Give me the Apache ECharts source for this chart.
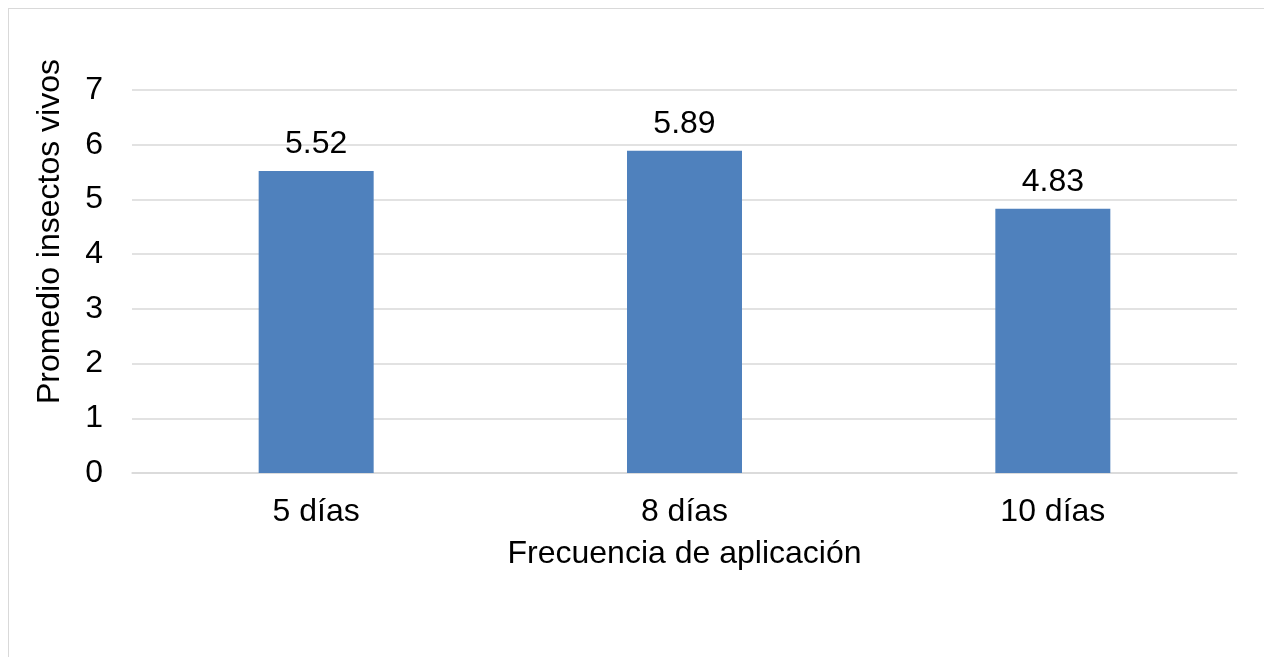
<!DOCTYPE html>
<html>
<head>
<meta charset="utf-8">
<script src="https://cdn.jsdelivr.net/npm/echarts@6/dist/echarts.min.js"></script>
<style>
    html, body { margin: 0; padding: 0; background: #fff; }
    #frame { position: absolute; left: 8px; top: 8px; width: 1270px; height: 660px; border: 1px solid #d9d9d9; box-sizing: border-box; }
    #chart { position: absolute; left: 0; top: 0; width: 1264px; height: 657px; }
</style>
</head>
<body>
<div id="frame"></div>
<div id="chart"></div>
<script>
const categories = ['5 días', '8 días', '10 días'];
const values = [5.52, 5.89, 4.83];
const yTicks = [0, 1, 2, 3, 4, 5, 6, 7];

const font = 'Liberation Sans, Arial, sans-serif';
const fs = 32;
const chart = echarts.init(document.getElementById('chart'));

chart.setOption({
    animation: false,
    grid: {
        left: 132,
        right: 27,
        top: 90,
        bottom: 184,
        containLabel: false
    },
    xAxis: {
        type: 'category',
        data: categories,
        name: 'Frecuencia de aplicación',
        nameLocation: 'middle',
        nameGap: 65,
        nameTextStyle: { fontFamily: font, fontSize: fs, color: '#000' },
        axisLine: { lineStyle: { color: '#d9d9d9', width: 1.5 } },
        axisTick: { show: false },
        axisLabel: { fontFamily: font, fontSize: fs, color: '#000', margin: 23 }
    },
    yAxis: {
        type: 'value',
        min: yTicks[0],
        max: yTicks[yTicks.length - 1],
        interval: 1,
        name: 'Promedio insectos vivos',
        nameLocation: 'middle',
        nameGap: 66,
        nameTextStyle: { fontFamily: font, fontSize: fs, color: '#000', padding: [0, 0, 0, 100] },
        axisLine: { show: false },
        axisTick: { show: false },
        splitLine: { lineStyle: { color: '#d9d9d9', width: 1.5 } },
        axisLabel: { fontFamily: font, fontSize: fs, color: '#000', margin: 29 }
    },
    series: [{
        type: 'bar',
        data: values,
        barWidth: 115,
        itemStyle: { color: '#4f81bd' },
        label: {
            show: true,
            position: 'top',
            distance: 11,
            fontFamily: font,
            fontSize: fs,
            color: '#000',
            formatter: p => p.value.toFixed(2)
        }
    }]
});
</script>
</body>
</html>
